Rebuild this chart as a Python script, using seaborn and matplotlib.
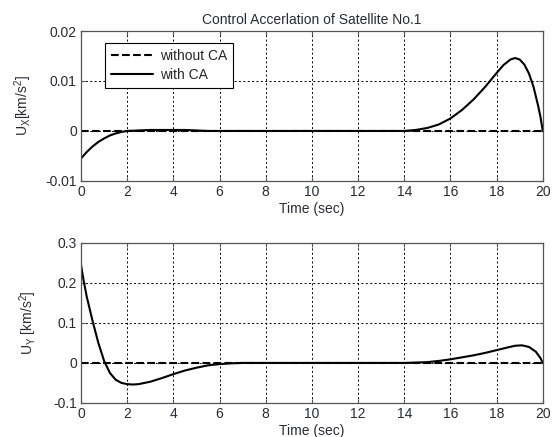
import matplotlib
matplotlib.use("Agg")
import matplotlib.pyplot as plt
import matplotlib.ticker as mticker
import seaborn as sns
import pandas as pd

sns.set_theme(style="white")
plt.rcParams["font.family"] = ["Liberation Sans", "DejaVu Sans"]
plt.rcParams["axes.unicode_minus"] = False
plt.rcParams["mathtext.default"] = "regular"

# time samples (sec)
t_x = [0, 0.25, 0.5, 0.75, 1.0, 1.25, 1.5, 1.75, 2.0, 2.5, 3.0, 3.5, 4.0, 4.5, 5.0, 5.5, 6,
       8, 10, 12, 13, 14, 14.5, 15, 15.5, 16, 16.5, 17, 17.5, 18, 18.3, 18.6, 18.8, 19.0,
       19.2, 19.4, 19.6, 19.8, 19.9, 20]
# with collision avoidance, x-axis control acceleration (km/s^2)
ux_ca = [-0.0055, -0.0042, -0.0031, -0.0022, -0.0015, -0.0009, -0.0005, -0.0002, 0.0,
         0.0001, 0.0002, 0.0002, 0.0002, 0.0002, 0.0001, 0.0, 0.0,
         0.0, 0.0, 0.0, 0.0, 0.0, 0.0002, 0.0006, 0.0013, 0.0025, 0.0042, 0.0063, 0.0088,
         0.0116, 0.0132, 0.0143, 0.0146, 0.0143, 0.0133, 0.0115, 0.0088, 0.0050, 0.0028, 0.0]

t_y = [0, 0.1, 0.25, 0.5, 0.75, 1.0, 1.25, 1.5, 1.75, 2.0, 2.25, 2.5, 3.0, 3.5, 4.0, 4.5,
       5.0, 5.5, 6.0, 6.5, 7, 8, 10, 12, 14, 15, 15.5, 16, 16.5, 17, 17.5, 18, 18.5, 18.8,
       19.1, 19.4, 19.7, 19.9, 20]
# with collision avoidance, y-axis control acceleration (km/s^2)
uy_ca = [0.245, 0.21, 0.165, 0.105, 0.05, 0.005, -0.025, -0.042, -0.05, -0.053, -0.054,
         -0.053, -0.047, -0.038, -0.028, -0.019, -0.012, -0.006, -0.003, -0.001, 0.0, 0.0,
         0.0, 0.0, 0.0, 0.002, 0.005, 0.009, 0.014, 0.019, 0.025, 0.032, 0.039, 0.043,
         0.044, 0.04, 0.028, 0.012, 0.0]

# without collision avoidance the control stays at zero
t_nca = [0, 20]
u_nca = [0.0, 0.0]

x_ticks = list(range(0, 21, 2))
ux_ticks = [-0.01, 0, 0.01, 0.02]
uy_ticks = [-0.1, 0, 0.1, 0.2, 0.3]

TXT = "#2a2a3a"
FS = 10

fig = plt.figure(figsize=(5.55, 4.37), dpi=100)
ax1 = fig.add_axes([0.146, 0.586, 0.832, 0.343])
ax2 = fig.add_axes([0.146, 0.078, 0.832, 0.366])

df_nca = pd.DataFrame({"t": t_nca, "u": u_nca})
df_x = pd.DataFrame({"t": t_x, "u": ux_ca})
df_y = pd.DataFrame({"t": t_y, "u": uy_ca})


def style(ax, yticks, ylabel, pad):
    ax.set_xlim(0, 20)
    ax.set_ylim(yticks[0], yticks[-1])
    ax.set_xticks(x_ticks)
    ax.set_yticks(yticks)
    ax.yaxis.set_major_formatter(mticker.FuncFormatter(lambda v, p: "%g" % round(v, 6)))
    ax.grid(True, color="black", linestyle=(0, (2, 2.5)), linewidth=0.7)
    ax.set_axisbelow(True)
    for s in ax.spines.values():
        s.set_color("#555555")
        s.set_linewidth(0.9)
    ax.tick_params(axis="both", labelsize=FS, labelcolor=TXT, color="#555555",
                   direction="in", length=3, width=0.8, pad=3,
                   left=True, bottom=True, top=True, right=True)
    ax.set_xlabel("Time (sec)", fontsize=FS, color=TXT, labelpad=2)
    ax.set_ylabel(ylabel, fontsize=FS, color=TXT, labelpad=pad)


sns.lineplot(data=df_nca, x="t", y="u", ax=ax1, color="black", linestyle="--",
             linewidth=1.5, label="without CA", estimator=None, sort=False)
sns.lineplot(data=df_x, x="t", y="u", ax=ax1, color="black", linewidth=1.5,
             label="with CA", estimator=None, sort=False)
style(ax1, ux_ticks, r"U$_X$[km/s$^2$]", 8)
ax1.set_title("Control Accerlation of Satellite No.1", fontsize=FS, color=TXT, pad=5)
leg = ax1.legend(loc="upper left", bbox_to_anchor=(0.052, 0.92), fontsize=FS,
                 frameon=True, fancybox=False, framealpha=1, edgecolor="black",
                 handlelength=3.0, handletextpad=0.5, borderpad=0.45,
                 labelspacing=0.35, borderaxespad=0)
leg.get_frame().set_linewidth(0.8)

sns.lineplot(data=df_nca, x="t", y="u", ax=ax2, color="black", linestyle="--",
             linewidth=1.5, estimator=None, sort=False)
sns.lineplot(data=df_y, x="t", y="u", ax=ax2, color="black", linewidth=1.5,
             estimator=None, sort=False)
style(ax2, uy_ticks, r"U$_Y$ [km/s$^2$]", 10)

fig.savefig("out.png", dpi=100)
